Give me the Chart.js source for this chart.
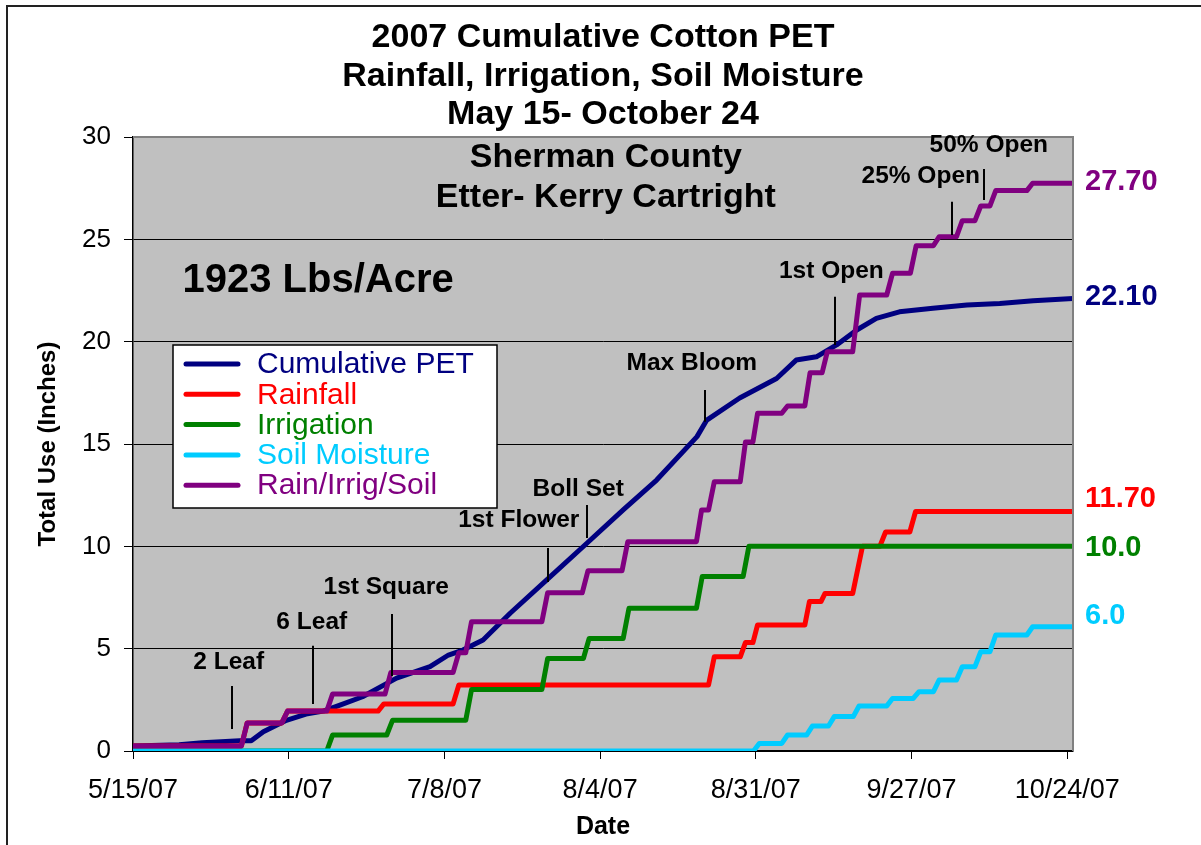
<!DOCTYPE html>
<html>
<head>
<meta charset="utf-8">
<script src="https://cdn.jsdelivr.net/npm/chart.js@4/dist/chart.umd.min.js"></script>
<style>
  html, body { margin: 0; padding: 0; background: #fff; }
  canvas { display: block; }
</style>
</head>
<body>
<canvas id="myChart" width="1201" height="845"></canvas>
<script>
// x values are days after 5/15/07
const xTickDays = [0, 27, 54, 81, 108, 135, 162];
const xTickLabels = ['5/15/07', '6/11/07', '7/8/07', '8/4/07', '8/31/07', '9/27/07', '10/24/07'];

const titleLines = ['2007 Cumulative Cotton PET', 'Rainfall, Irrigation, Soil Moisture', 'May 15- October 24'];

const seriesNames = ['Cumulative PET', 'Rainfall', 'Irrigation', 'Soil Moisture', 'Rain/Irrig/Soil'];
const seriesColors = ['#000080', '#ff0000', '#008000', '#00ccff', '#800080'];
const endLabels = ['22.10', '11.70', '10.0', '6.0', '27.70'];

const petDays = [0, 8, 12, 18.5, 20.5, 22.6, 26.6, 30, 33, 36, 39.8, 45.7, 51.5, 54.7, 57.2, 60.7, 65.4, 71.7, 78.7, 85, 90.8, 97.8, 99.5, 105.2, 111.6, 115, 118.5, 122, 125.5, 128.9, 132.9, 138.7, 144.6, 150.3, 156.1, 163];
const petVals = [0.25, 0.3, 0.4, 0.5, 0.5, 0.94, 1.5, 1.8, 1.95, 2.25, 2.65, 3.56, 4.12, 4.69, 4.93, 5.42, 6.73, 8.35, 10.15, 11.78, 13.24, 15.36, 16.17, 17.25, 18.2, 19.1, 19.26, 19.84, 20.57, 21.14, 21.46, 21.63, 21.79, 21.87, 22.0, 22.11];

const rainDays = [0, 18.8, 19.8, 25.8, 26.8, 42.5, 43.5, 55.5, 56.5, 99.8, 100.8, 105.3, 106.2, 107.5, 108.3, 116.5, 117.3, 119.3, 120, 124.8, 126.5, 129.5, 130.5, 134.7, 135.7, 163];
const rainVals = [0.25, 0.25, 1.37, 1.37, 1.95, 1.95, 2.3, 2.3, 3.22, 3.22, 4.6, 4.6, 5.3, 5.3, 6.16, 6.16, 7.3, 7.3, 7.7, 7.7, 10.0, 10.0, 10.7, 10.7, 11.7, 11.7];

const irrigDays = [0, 33.6, 34.6, 44, 45, 57.7, 58.7, 70.9, 71.9, 78.1, 79.1, 85, 86, 97.7, 98.7, 105.8, 106.8, 163];
const irrigVals = [0, 0, 0.78, 0.78, 1.5, 1.5, 3.0, 3.0, 4.52, 4.52, 5.5, 5.5, 6.97, 6.97, 8.52, 8.52, 10.0, 10.0];

const soilDays = [0, 107.6, 108.6, 112.5, 113.5, 116.8, 117.8, 120.6, 121.6, 124.9, 125.9, 130.7, 131.7, 135.3, 136.3, 138.8, 139.8, 142.8, 143.8, 146, 147, 148.6, 149.6, 155, 156, 163];
const soilVals = [0, 0, 0.37, 0.37, 0.78, 0.78, 1.22, 1.22, 1.68, 1.68, 2.2, 2.2, 2.57, 2.57, 2.9, 2.9, 3.47, 3.47, 4.12, 4.12, 4.85, 4.85, 5.67, 5.67, 6.07, 6.07];

const totalDays = [0, 18.8, 19.8, 25.8, 26.8, 33.6, 34.6, 43.7, 44.7, 55.5, 56.5, 57.7, 58.7, 70.9, 71.9, 77.9, 78.9, 84.8, 85.8, 97.7, 98.6, 99.8, 100.8, 105.3, 106.2, 107.5, 108.3, 112.5, 113.5, 116.5, 117.4, 119.5, 120.4, 124.8, 126, 130.7, 131.7, 134.8, 135.8, 138.8, 139.8, 142.8, 143.8, 146, 147, 148.6, 149.6, 155, 156, 163];
const totalVals = [0.25, 0.25, 1.37, 1.37, 1.95, 1.95, 2.78, 2.78, 3.83, 3.83, 4.8, 4.8, 6.32, 6.32, 7.73, 7.73, 8.81, 8.81, 10.23, 10.23, 11.78, 11.78, 13.16, 13.16, 15.1, 15.1, 16.5, 16.5, 16.86, 16.86, 18.48, 18.48, 19.51, 19.51, 22.28, 22.28, 23.34, 23.34, 24.69, 24.69, 25.13, 25.13, 25.91, 25.91, 26.63, 26.63, 27.38, 27.38, 27.74, 27.74];

// growth stage markers: text, day of the marker, marker line from / to (inches)
const stageText = ['2 Leaf', '6 Leaf', '1st Square', '1st Flower', 'Boll Set', 'Max Bloom', '1st Open', '25% Open', '50% Open'];
const stageDay = [17.1, 31.2, 44.9, 71.9, 78.8, 99.2, 121.8, 142.1, 147.6];
const stageLineTop = [3.18, 5.14, 6.69, 9.92, 12.02, 17.64, 22.2, 26.84, 28.44];
const stageLineBottom = [1.07, 2.3, 3.66, 8.26, 10.41, 16.09, 19.84, 25.21, 26.92];
// where each stage label sits (day, inches)
const stageTextAt = [[16.6, 4.35], [31.0, 6.3], [43.9, 8.01], [66.9, 11.29], [77.2, 12.8], [96.9, 18.96], [121.1, 23.43], [136.6, 28.07], [148.4, 29.61]];

const toPoints = (days, vals) => days.map((d, i) => ({ x: d, y: vals[i] }));

const FONT = '"Liberation Sans", Arial, sans-serif';
Chart.defaults.font.family = FONT;
Chart.defaults.color = '#000';

const decor = {
    id: 'decor',
    beforeDraw(chart) {
        const { ctx, chartArea: a } = chart;
        ctx.save();
        ctx.fillStyle = '#c0c0c0';
        ctx.fillRect(a.left, a.top, a.right - a.left, a.bottom - a.top);
        ctx.strokeStyle = '#222';
        ctx.lineWidth = 2;
        ctx.beginPath();
        ctx.moveTo(7, 845);
        ctx.lineTo(7, 6);
        ctx.lineTo(1201, 6);
        ctx.stroke();

        // title
        ctx.fillStyle = '#000';
        ctx.font = 'bold 34px ' + FONT;
        ctx.textAlign = 'center';
        ctx.textBaseline = 'middle';
        titleLines.forEach((t, i) => ctx.fillText(t, 603, 38 + i * 38.5));
        ctx.restore();
    },
    afterDatasetsDraw(chart) {
        const { ctx, chartArea: a, scales: { x, y } } = chart;
        ctx.save();
        // gray plot border on top and right
        ctx.strokeStyle = '#808080';
        ctx.lineWidth = 2;
        ctx.beginPath();
        ctx.moveTo(a.left, a.top);
        ctx.lineTo(a.right, a.top);
        ctx.lineTo(a.right, a.bottom);
        ctx.stroke();

        // stage markers
        ctx.strokeStyle = '#000';
        ctx.lineWidth = 2;
        ctx.fillStyle = '#000';
        ctx.font = 'bold 24.5px ' + FONT;
        ctx.textAlign = 'center';
        ctx.textBaseline = 'middle';
        stageText.forEach((t, i) => {
            const px = Math.round(x.getPixelForValue(stageDay[i]));
            ctx.beginPath();
            ctx.moveTo(px, y.getPixelForValue(stageLineTop[i]));
            ctx.lineTo(px, y.getPixelForValue(stageLineBottom[i]));
            ctx.stroke();
            ctx.fillText(t, x.getPixelForValue(stageTextAt[i][0]), y.getPixelForValue(stageTextAt[i][1]));
        });

        ctx.font = 'bold 34px ' + FONT;
        ctx.fillText('Sherman County', x.getPixelForValue(82), y.getPixelForValue(28.97));
        ctx.fillText('Etter- Kerry Cartright', x.getPixelForValue(82), y.getPixelForValue(27.02));
        ctx.font = 'bold 40px ' + FONT;
        ctx.fillText('1923 Lbs/Acre', x.getPixelForValue(32.1), y.getPixelForValue(22.99));

        // end-of-season values beside the plot
        const nudge = [-1, -13, 2, -11, -1];
        ctx.font = 'bold 29px ' + FONT;
        ctx.textAlign = 'left';
        chart.data.datasets.forEach((ds, i) => {
            const last = ds.data[ds.data.length - 1];
            ctx.fillStyle = seriesColors[i];
            ctx.fillText(endLabels[i], a.right + 12, y.getPixelForValue(last.y) + nudge[i]);
        });
        ctx.restore();
    },
    afterDraw(chart) {
        const { ctx } = chart;
        ctx.save();
        ctx.fillStyle = '#fff';
        ctx.fillRect(173, 345, 324, 163);
        ctx.strokeStyle = '#000';
        ctx.lineWidth = 1.5;
        ctx.strokeRect(173, 345, 324, 163);
        ctx.font = '30px ' + FONT;
        ctx.textAlign = 'left';
        ctx.textBaseline = 'middle';
        ctx.lineCap = 'round';
        ctx.lineWidth = 5;
        seriesNames.forEach((name, i) => {
            const ly = 364 + i * 30.3;
            ctx.strokeStyle = seriesColors[i];
            ctx.beginPath();
            ctx.moveTo(186, ly);
            ctx.lineTo(238, ly);
            ctx.stroke();
            ctx.fillStyle = seriesColors[i];
            ctx.fillText(name, 257, ly + 1);
        });
        ctx.restore();
    }
};

const seriesPoints = [
    toPoints(petDays, petVals),
    toPoints(rainDays, rainVals),
    toPoints(irrigDays, irrigVals),
    toPoints(soilDays, soilVals),
    toPoints(totalDays, totalVals)
];
// later series sit on top, as in the original
const drawOrder = [4, 3, 2, 1, 0];

new Chart(document.getElementById('myChart'), {
    type: 'line',
    data: {
        datasets: seriesPoints.map((pts, i) => ({
            label: seriesNames[i],
            data: pts,
            borderColor: seriesColors[i],
            backgroundColor: seriesColors[i],
            borderWidth: 5,
            pointRadius: 0,
            tension: 0,
            borderJoinStyle: 'round',
            borderCapStyle: 'round',
            order: drawOrder[i]
        }))
    },
    options: {
        responsive: false,
        animation: false,
        events: [],
        layout: { padding: { left: 0, right: 128, top: 137, bottom: 0 } },
        plugins: {
            legend: { display: false },
            tooltip: { enabled: false },
            title: { display: false }
        },
        scales: {
            x: {
                type: 'linear',
                min: 0,
                max: 163,
                afterBuildTicks: s => { s.ticks = xTickDays.map(v => ({ value: v })); },
                afterFit: s => { s.height = 94; },
                grid: { drawOnChartArea: false, tickLength: 8, tickColor: '#000' },
                border: { color: '#000', width: 1.5 },
                ticks: {
                    callback: (v, i) => xTickLabels[i],
                    font: { size: 27 },
                    color: '#000',
                    maxRotation: 0,
                    autoSkip: false,
                    padding: 15
                },
                title: {
                    display: true,
                    text: 'Date',
                    font: { size: 25, weight: 'bold' },
                    color: '#000',
                    padding: { top: 0, bottom: 3 }
                }
            },
            y: {
                min: 0,
                max: 30,
                afterFit: s => { s.width = 133; },
                grid: { color: '#000', lineWidth: 1, tickLength: 9, tickColor: '#000' },
                border: { color: '#000', width: 1.5 },
                ticks: { stepSize: 5, font: { size: 26 }, color: '#000', padding: 13 },
                title: {
                    display: true,
                    text: 'Total Use (Inches)',
                    font: { size: 24, weight: 'bold' },
                    color: '#000',
                    padding: { top: 34, bottom: 0 }
                }
            }
        }
    },
    plugins: [decor]
});
</script>
</body>
</html>
